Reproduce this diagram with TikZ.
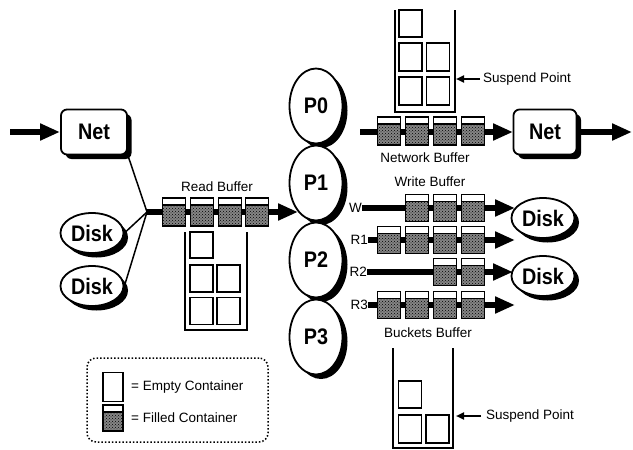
\documentclass[tikz,border=0pt]{standalone}
\usepackage{fontspec}
\setmainfont{Liberation Sans}
\newfontfamily\condf[FakeStretch=0.88]{Liberation Sans}
\usetikzlibrary{shapes.geometric,shadows,arrows.meta,patterns}
\tikzset{
  lbl/.style={font=\fontsize{13.5}{15}\selectfont, inner sep=0},
  big/.style={font=\condf\bfseries\fontsize{22.5}{24}\selectfont},
  shad/.style={drop shadow={shadow xshift=4.5pt,shadow yshift=-4.5pt,fill=black,opacity=1}},
  netbox/.style={draw, line width=1.8pt, rounded corners=6pt, fill=white, minimum width=66pt, minimum height=45pt, inner sep=0, shad, big},
  diskn/.style={ellipse, draw, line width=1.8pt, fill=white, minimum width=63pt, minimum height=40pt, inner sep=0, shad, big},
  procn/.style={ellipse, draw, line width=1.8pt, fill=white, minimum width=53pt, minimum height=75pt, inner sep=0, drop shadow={shadow xshift=5pt,shadow yshift=-4.5pt,fill=black,opacity=1}, big},
  emptyc/.style={draw, line width=1.5pt, fill=white, minimum width=23pt, minimum height=27pt, inner sep=0},
  fullc/.style={draw, line width=1.5pt, fill=white, minimum width=23pt, minimum height=28pt, inner sep=0, path picture={
     \fill[black!48] (path picture bounding box.south west) rectangle ([yshift=-7pt]path picture bounding box.north east);
     \fill[pattern=crosshatch dots, pattern color=black] (path picture bounding box.south west) rectangle ([yshift=-7pt]path picture bounding box.north east);
     \draw[line width=1.5pt] ([yshift=-7pt]path picture bounding box.north west) -- ([yshift=-7pt]path picture bounding box.north east);}},
  flow/.style={line width=6pt, -{Triangle[length=20pt,width=16pt]}},
  thinl/.style={line width=1.5pt},
  framel/.style={line width=1.5pt},
  susp/.style={line width=2.5pt, -{Triangle[length=8pt,width=7pt]}},
}
\begin{document}
\begin{tikzpicture}[x=1pt,y=-1pt]
\useasboundingbox (0,0) rectangle (633,450);

% ---------- coordinates
\coordinate (In) at (10,132);
\coordinate (J) at (147,212);
\coordinate (P1in) at (298,212);
\coordinate (NBst) at (360,132);
\coordinate (Out) at (632,132);
\coordinate (Wend) at (515,208);
\coordinate (R1end) at (515,240);
\coordinate (R2end) at (513,272);
\coordinate (R3end) at (515,305);
\coordinate (SP1) at (480,79);
\coordinate (SP1t) at (456,79);
\coordinate (SP2) at (481,416);
\coordinate (SP2t) at (456,416);

% ---------- labels for rows
\node[lbl, anchor=east] (W) at (362,208) {W};
\node[lbl, anchor=east] (R1) at (368,240) {R1};
\node[lbl, anchor=east] (R2) at (367,272) {R2};
\node[lbl, anchor=east] (R3) at (368,305) {R3};

% ---------- thick flows (under the containers)
\draw[flow] (In) -- (60,132);
\draw[flow] (J) -- (P1in);
\draw[flow] (NBst) -- (513,132);
\draw[flow] (W.east) -- (Wend);
\draw[flow] (R1.east) -- (R1end);
\draw[flow] (R2.east) -- (R2end);
\draw[flow] (R3.east) -- (R3end);

% ---------- left sources
\node[netbox] (NetL) at (94,132) {Net};
\node[diskn] (DiskL1) at (92,233) {Disk};
\node[diskn] (DiskL2) at (92,286) {Disk};
\draw[thinl] (NetL.south east) -- (J);
\draw[thinl] (DiskL1.east) -- (J);
\draw[thinl] (DiskL2.east) -- (J);

% ---------- processes
\node[procn] (P0) at (316,106) {P0};
\node[procn] (P1) at (316,183) {P1};
\node[procn] (P2) at (316,260) {P2};
\node[procn] (P3) at (316,337) {P3};

% ---------- right sinks
\node[netbox, minimum width=63pt] (NetR) at (545,132) {Net};
\draw[flow] (NetR.east) -- (Out);
\node[diskn] (DiskR1) at (543,218) {Disk};
\node[diskn] (DiskR2) at (543,276) {Disk};

% ---------- read buffer
\node[lbl] (RBl) at (217,187) {Read Buffer};
\node[fullc] (rb1) at (174,212) {};
\node[fullc] (rb2) at (202,212) {};
\node[fullc] (rb3) at (230,212) {};
\node[fullc] (rb4) at (257,212) {};
\draw[framel] (185,232) -- (185,330) -- (247,330) -- (247,232);
\node[emptyc, minimum height=26pt] (re1) at (201.5,245) {};
\node[emptyc] (re2) at (201.5,278.5) {};
\node[emptyc] (re3) at (228.5,278.5) {};
\node[emptyc] (re4) at (201.5,311) {};
\node[emptyc] (re5) at (228.5,311) {};

% ---------- network buffer
\draw[framel] (395,10) -- (395,112) -- (455,112) -- (455,10);
\node[emptyc] (ne1) at (410.5,23.5) {};
\node[emptyc, minimum height=28pt] (ne2) at (410.5,57) {};
\node[emptyc, minimum height=28pt] (ne3) at (438,57) {};
\node[emptyc, minimum height=28pt] (ne4) at (410.5,91) {};
\node[emptyc, minimum height=28pt] (ne5) at (438,91) {};
\draw[susp] (SP1) -- (SP1t);
\node[lbl, anchor=west] (SPl1) at (483,79) {Suspend Point};
\node[fullc] (nb1) at (389,131) {};
\node[fullc] (nb2) at (417,131) {};
\node[fullc] (nb3) at (445,131) {};
\node[fullc] (nb4) at (473,131) {};
\node[lbl] (NBl) at (425,158) {Network Buffer};

% ---------- write buffer
\node[lbl] (WBl) at (430,182) {Write Buffer};
\node[fullc, minimum height=27pt] (w2) at (417,208) {};
\node[fullc, minimum height=27pt] (w3) at (445,208) {};
\node[fullc, minimum height=27pt] (w4) at (473,208) {};

\node[fullc, minimum height=27pt] (a1) at (389,240) {};
\node[fullc, minimum height=27pt] (a2) at (417,240) {};
\node[fullc, minimum height=27pt] (a3) at (445,240) {};
\node[fullc, minimum height=27pt] (a4) at (473,240) {};

\node[fullc, minimum height=27pt] (b3) at (445,272) {};
\node[fullc, minimum height=27pt] (b4) at (473,272) {};

\node[fullc, minimum height=27pt] (c1) at (389,305) {};
\node[fullc, minimum height=27pt] (c2) at (417,305) {};
\node[fullc, minimum height=27pt] (c3) at (445,305) {};
\node[fullc, minimum height=27pt] (c4) at (473,305) {};
\node[lbl] (BBl) at (428,333) {Buckets Buffer};

% ---------- buckets frame
\draw[framel] (393,348) -- (393,448) -- (453,448) -- (453,348);
\node[emptyc] (be1) at (410,394.5) {};
\node[emptyc, minimum height=28pt] (be2) at (410,429) {};
\node[emptyc, minimum height=28pt] (be3) at (437.5,429) {};
\draw[susp] (SP2) -- (SP2t);
\node[lbl, anchor=west] (SPl2) at (486,416) {Suspend Point};

% ---------- legend
\node[draw, dotted, line width=1.5pt, rounded corners=9pt, minimum width=181pt, minimum height=84pt, inner sep=0] (legend) at (177.5,400) {};
\node[emptyc, minimum width=20pt, minimum height=29pt] (le) at (113,387) {};
\node[fullc, minimum width=20pt, minimum height=26pt] (lf) at (113,418) {};
\node[lbl, anchor=west] (let) at (131,387) {= Empty Container};
\node[lbl, anchor=west] (lft) at (131,418) {= Filled Container};
\end{tikzpicture}
\end{document}
